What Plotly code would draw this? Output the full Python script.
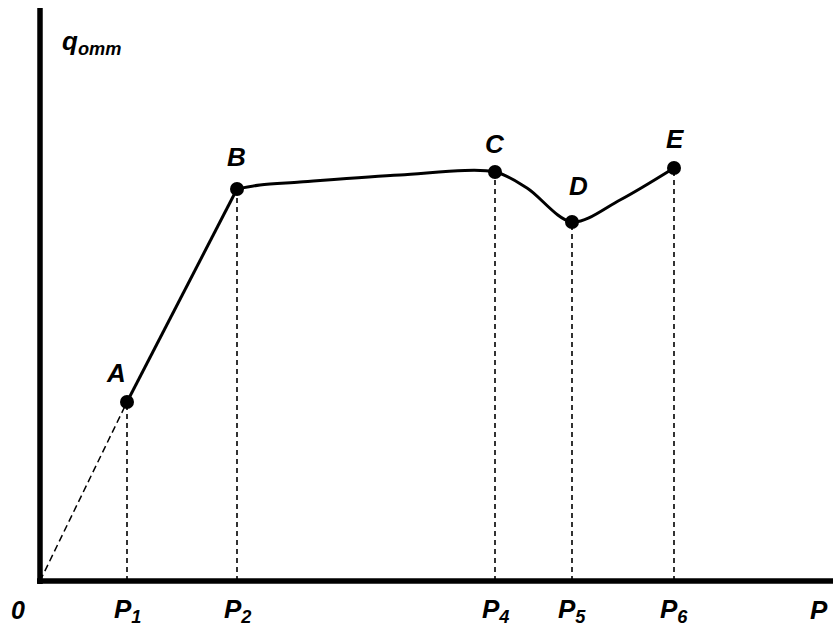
import plotly.graph_objects as go

# key points of the curve (origin at 0,0)
point_names = ["A", "B", "C", "D", "E"]
point_x = [0.87, 1.97, 4.55, 5.32, 6.34]
point_y = [1.79, 3.92, 4.09, 3.59, 4.13]

# extra points read along the smooth part B..E
curve_x = [1.97, 2.20, 2.60, 3.60, 4.55, 4.87, 5.32, 5.80, 6.34]
curve_y = [3.92, 3.96, 3.99, 4.06, 4.09, 3.93, 3.59, 3.81, 4.13]

# x tick labels
tick_x = [0.87, 1.97, 4.55, 5.32, 6.34]
tick_text = ["P<sub>1</sub>", "P<sub>2</sub>", "P<sub>4</sub>", "P<sub>5</sub>", "P<sub>6</sub>"]

FONT = "Liberation Sans, Arial, sans-serif"

fig = go.Figure()

# dashed line from origin to A
fig.add_trace(go.Scatter(x=[0, point_x[0]], y=[0, point_y[0]], mode="lines",
                         line=dict(color="black", width=1.5, dash="7px,4px"),
                         hoverinfo="skip"))

# straight segment A-B
fig.add_trace(go.Scatter(x=point_x[:2], y=point_y[:2], mode="lines",
                         line=dict(color="black", width=3), hoverinfo="skip"))

# smooth segment B-E
fig.add_trace(go.Scatter(x=curve_x, y=curve_y, mode="lines",
                         line=dict(color="black", width=3, shape="spline", smoothing=0.9),
                         hoverinfo="skip"))

# dotted drop lines
for px_, py_ in zip(point_x, point_y):
    fig.add_trace(go.Scatter(x=[px_, px_], y=[0, py_], mode="lines",
                             line=dict(color="black", width=1.6, dash="5px,4px"),
                             hoverinfo="skip"))

# markers
fig.add_trace(go.Scatter(x=point_x, y=point_y, mode="markers",
                         marker=dict(color="black", size=14), hoverinfo="skip"))

# axes drawn as thick lines
fig.add_shape(type="line", x0=0, y0=-0.03, x1=0, y1=5.73,
              line=dict(color="black", width=5.5))
fig.add_shape(type="line", x0=-0.03, y0=0, x1=8.0, y1=0,
              line=dict(color="black", width=5.5))

# point labels
label_dx = [-0.11, -0.01, 0.0, 0.06, 0.01]
label_dy = [0.29, 0.32, 0.28, 0.36, 0.29]
for name, px_, py_, dx, dy in zip(point_names, point_x, point_y, label_dx, label_dy):
    fig.add_annotation(x=px_ + dx, y=py_ + dy, text="<b><i>%s</i></b>" % name,
                       showarrow=False, font=dict(family=FONT, size=26, color="black"))

# x tick labels
for tx, tt in zip(tick_x, tick_text):
    fig.add_annotation(x=tx, y=-0.29, text="<b><i>%s</i></b>" % tt, showarrow=False,
                       font=dict(family=FONT, size=26, color="black"))
fig.add_annotation(x=-0.22, y=-0.29, text="<b><i>0</i></b>", showarrow=False,
                   font=dict(family=FONT, size=25, color="black"))
fig.add_annotation(x=7.68, y=-0.29, text="<b><i>P</i></b>", showarrow=False,
                   xanchor="left", font=dict(family=FONT, size=26, color="black"))

# y label
fig.add_annotation(x=0.20, y=5.39, text="<b><i>q<sub>omm</sub></i></b>", showarrow=False,
                   xanchor="left", font=dict(family=FONT, size=26, color="black"))

fig.update_xaxes(range=[-0.40, 7.93], visible=False, fixedrange=True)
fig.update_yaxes(range=[-0.46, 5.81], visible=False, fixedrange=True)
fig.update_layout(width=833, height=627, margin=dict(l=0, r=0, t=0, b=0),
                  plot_bgcolor="white", paper_bgcolor="white", showlegend=False)

# drop the browser's default body margin so the figure fills the window
fig.write_html("out.html", config={"displayModeBar": False},
               post_script="document.body.style.margin='0px';")
